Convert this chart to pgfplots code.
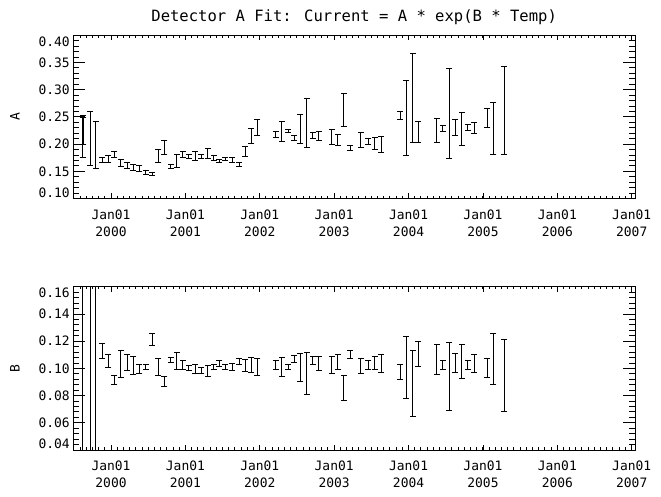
\documentclass[border=0pt]{standalone}
\usepackage{pgfplots}
\pgfplotsset{compat=1.18}
\usepackage{pgfplotstable}
\usepackage{fontspec}
\setmainfont{DejaVu Sans Mono}

\pgfplotstableread{
x y e
1999.620 0.2141 0.0392
1999.628 0.2245 0.0245
1999.718 0.2107 0.0499
1999.798 0.1988 0.0434
1999.879 0.1710 0.0046
1999.960 0.1725 0.0061
2000.044 0.1810 0.0055
2000.130 0.1658 0.0061
2000.215 0.1606 0.0052
2000.300 0.1572 0.0049
2000.380 0.1554 0.0055
2000.467 0.1480 0.0031
2000.551 0.1450 0.0025
2000.636 0.1786 0.0122
2000.717 0.1939 0.0128
2000.803 0.1590 0.0037
2000.883 0.1691 0.0119
2000.964 0.1807 0.0052
2001.045 0.1774 0.0037
2001.129 0.1783 0.0083
2001.214 0.1777 0.0040
2001.300 0.1832 0.0089
2001.378 0.1749 0.0049
2001.456 0.1688 0.0024
2001.537 0.1725 0.0031
2001.627 0.1703 0.0046
2001.721 0.1624 0.0040
2001.802 0.1865 0.0092
2001.886 0.2150 0.0138
2001.967 0.2306 0.0147
2002.214 0.2177 0.0055
2002.295 0.2232 0.0184
2002.380 0.2242 0.0028
2002.460 0.2113 0.0046
2002.545 0.2278 0.0266
2002.631 0.2388 0.0450
2002.712 0.2156 0.0052
2002.792 0.2150 0.0083
2002.967 0.2132 0.0138
2003.048 0.2076 0.0101
2003.129 0.2630 0.0306
2003.213 0.1930 0.0046
2003.354 0.2076 0.0138
2003.459 0.2055 0.0055
2003.545 0.2018 0.0110
2003.630 0.1991 0.0150
2003.885 0.2529 0.0076
2003.966 0.2477 0.0685
2004.056 0.2847 0.0817
2004.132 0.2223 0.0193
2004.379 0.2251 0.0220
2004.460 0.2284 0.0052
2004.544 0.2563 0.0826
2004.625 0.2303 0.0150
2004.715 0.2278 0.0303
2004.796 0.2306 0.0049
2004.880 0.2294 0.0098
2005.059 0.2480 0.0174
2005.140 0.2291 0.0480
2005.284 0.2624 0.0807
}\tableA

\pgfplotstableread{
x y e
1999.620 0.1000 0.5
1999.718 0.1000 0.5
1999.798 0.1000 0.5
1999.879 0.1127 0.0053
1999.960 0.1053 0.0050
2000.044 0.0916 0.0032
2000.130 0.1034 0.0098
2000.215 0.1042 0.0061
2000.300 0.1023 0.0065
2000.380 0.0996 0.0033
2000.467 0.1012 0.0017
2000.551 0.1210 0.0043
2000.636 0.1012 0.0061
2000.717 0.0904 0.0039
2000.803 0.1060 0.0018
2000.883 0.1055 0.0065
2000.964 0.1027 0.0034
2001.045 0.1004 0.0016
2001.129 0.0995 0.0034
2001.214 0.0986 0.0021
2001.300 0.0983 0.0039
2001.378 0.1010 0.0020
2001.456 0.1036 0.0021
2001.537 0.1011 0.0016
2001.627 0.1012 0.0027
2001.721 0.1053 0.0021
2001.802 0.1022 0.0042
2001.886 0.1027 0.0054
2001.967 0.1012 0.0061
2002.214 0.1028 0.0033
2002.295 0.1013 0.0070
2002.380 0.1013 0.0018
2002.460 0.1072 0.0026
2002.545 0.1006 0.0100
2002.631 0.0965 0.0155
2002.712 0.1058 0.0033
2002.792 0.1036 0.0048
2002.967 0.1028 0.0063
2003.048 0.1047 0.0052
2003.129 0.0857 0.0091
2003.213 0.1102 0.0026
2003.354 0.1021 0.0055
2003.459 0.1028 0.0033
2003.545 0.1042 0.0047
2003.630 0.1039 0.0066
2003.885 0.0973 0.0052
2003.966 0.1006 0.0230
2004.056 0.0886 0.0242
2004.132 0.1106 0.0089
2004.379 0.1065 0.0107
2004.460 0.1028 0.0033
2004.544 0.0943 0.0251
2004.625 0.1043 0.0070
2004.715 0.1047 0.0125
2004.796 0.1028 0.0033
2004.880 0.1036 0.0063
2005.059 0.1006 0.0070
2005.140 0.1072 0.0188
2005.284 0.0947 0.0262
}\tableB

\pgfplotsset{
  panel/.style={
    scale only axis, width=561.7bp, height=163.2bp, anchor=south west,
    xmin=1999.493, xmax=2007.044,
    axis line style={line width=0.9bp},
    every tick/.style={black, line width=0.9bp},
    tick align=inside,
  },
  xpanel/.style={
    panel, ytick=\empty,
    xtick={2000,2001,2002,2003,2004,2005,2006,2007},
    xticklabels={{Jan01\\2000},{Jan01\\2001},{Jan01\\2002},{Jan01\\2003},{Jan01\\2004},{Jan01\\2005},{Jan01\\2006},{Jan01\\2007}},
    minor xtick={1999.5,1999.583333,...,2007.0},
    major tick length=5bp, minor tick length=2.5bp,
    xticklabel style={align=center, font=\fontsize{13}{17}\selectfont, yshift=-7.5bp},
  },
  ypanel/.style={
    panel, xtick=\empty, minor y tick num=4,
    major tick length=12bp, minor tick length=6bp,
    yticklabel style={font=\fontsize{13}{17}\selectfont},
    ylabel style={at={(axis description cs:-0.1038,0.5)}, anchor=center, font=\fontsize{13}{17}\selectfont},
  },
  ebars/.style={draw=none, mark=none,
    error bars/.cd, y dir=both, y explicit,
    error bar style={draw=black, line width=1bp, solid},
    error mark=none},
  caps/.style={black, line width=1bp, only marks, mark=-, mark size=3bp,
    mark options={solid, draw=black, line width=1bp}},
}

\begin{document}
\begin{tikzpicture}[x=1bp,y=1bp]
\path[use as bounding box] (0,0) rectangle (661,497);

% top panel
\begin{axis}[xpanel, at={(73.3bp,298.5bp)}, ymin=0.10, ymax=0.40,
  title={Detector A Fit: Current = A * exp(B * Temp)},
  title style={at={(axis description cs:0.5,1)}, anchor=center, yshift=12bp, font=\fontsize{15.6}{18}\selectfont}]
\addplot[ebars] table[x=x, y=y, y error=e] {\tableA};
\addplot[caps] table[x=x, y expr=\thisrow{y}+\thisrow{e}] {\tableA};
\addplot[caps] table[x=x, y expr=\thisrow{y}-\thisrow{e}] {\tableA};
\end{axis}
\begin{axis}[ypanel, at={(73.3bp,298.5bp)}, ymin=0.10, ymax=0.40,
  ytick={0.10,0.15,0.20,0.25,0.30,0.35,0.40},
  yticklabels={\raisebox{6bp}[\height][\depth]{0.10},0.15,0.20,0.25,0.30,0.35,\raisebox{-6bp}[\height][\depth]{0.40}},
  ylabel={A}]
\end{axis}

% bottom panel
\begin{axis}[xpanel, at={(73.3bp,47bp)}, ymin=0.04, ymax=0.16]
\addplot[ebars] table[x=x, y=y, y error=e] {\tableB};
\addplot[caps] table[x=x, y expr=\thisrow{y}+\thisrow{e}] {\tableB};
\addplot[caps] table[x=x, y expr=\thisrow{y}-\thisrow{e}] {\tableB};
\end{axis}
\begin{axis}[ypanel, at={(73.3bp,47bp)}, ymin=0.04, ymax=0.16,
  ytick={0.04,0.06,0.08,0.10,0.12,0.14,0.16},
  yticklabels={\raisebox{6bp}[\height][\depth]{0.04},0.06,0.08,0.10,0.12,0.14,\raisebox{-6bp}[\height][\depth]{0.16}},
  ylabel={B}]
\end{axis}
\end{tikzpicture}
\end{document}
